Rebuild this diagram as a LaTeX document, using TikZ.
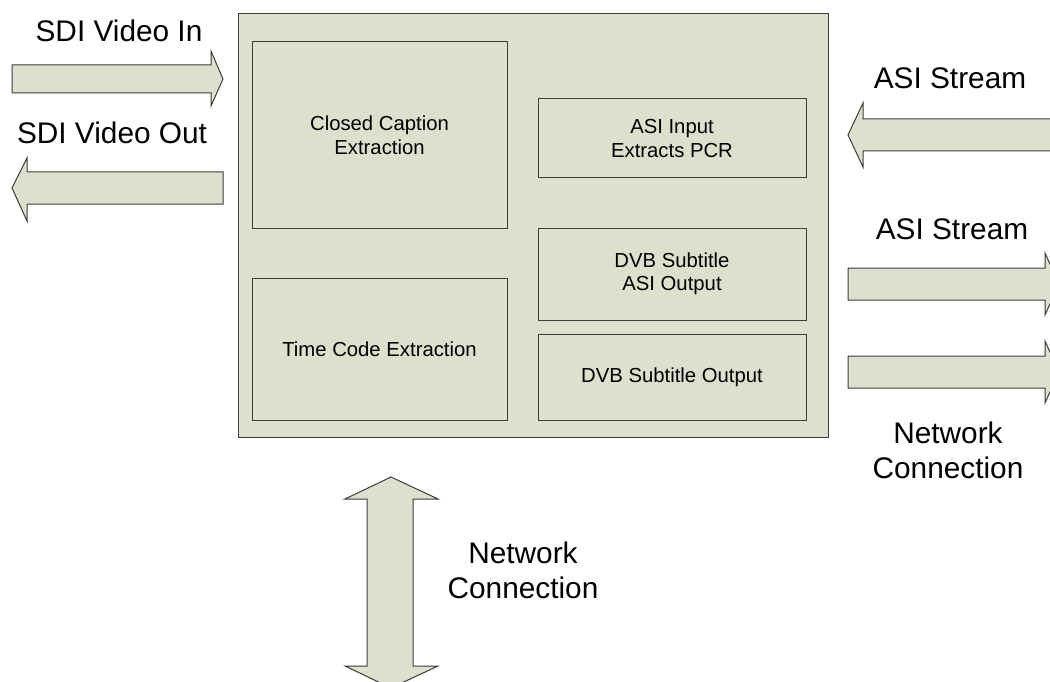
\documentclass[tikz,border=0pt]{standalone}
\usepackage{fontspec}
\setmainfont{Liberation Sans}
\begin{document}
\begin{tikzpicture}[x=1pt,y=-1pt,
  fillc/.style={fill=boxfill,draw=linec,line width=1pt},
  blockarrow/.style={fill=boxfill,draw=linec,line width=1pt,line join=miter},
  inner/.style={draw=linec,line width=1pt,align=center,font=\fontsize{20.3}{23.5}\selectfont},
  biglabel/.style={font=\fontsize{29.8}{35}\selectfont,align=center,anchor=base}]
\definecolor{boxfill}{RGB}{221,224,204}
\definecolor{linec}{RGB}{60,60,60}
\useasboundingbox (0,0) rectangle (1050,682);
\begin{scope}
\clip (0,0) rectangle (1050,682);
% main box
\draw[fillc] (238,14) rectangle (828,437);
% inner boxes
\draw[inner] (252,42) rectangle (507,228) node[midway] (cc) {Closed Caption\\Extraction};
\draw[inner] (252,278) rectangle (507,420) node[midway] (tc) {Time Code Extraction};
\draw[inner] (538,99) rectangle (806,178) node[midway] (asiin) {ASI Input\\Extracts PCR};
\draw[inner] (538,228) rectangle (806,320) node[midway] (dvbasi) {DVB Subtitle\\ASI Output};
\draw[inner] (538,334) rectangle (806,420) node[midway] (dvbout) {DVB Subtitle Output};
% SDI in
\draw[blockarrow] (12,65) -- (211,65) -- (211,51) -- (223,79) -- (211,106) -- (211,93) -- (12,93) -- cycle;
% SDI out
\draw[blockarrow] (223,172) -- (27,172) -- (27,158) -- (12,188) -- (27,221) -- (27,204) -- (223,204) -- cycle;
% ASI in (right)
\draw[blockarrow] (1070,119) -- (863,119) -- (863,103) -- (848,135) -- (863,167) -- (863,151) -- (1070,151) -- cycle;
% ASI out
\draw[blockarrow] (848,268) -- (1045,268) -- (1045,253) -- (1059,284) -- (1045,315) -- (1045,300) -- (848,300) -- cycle;
% Network right
\draw[blockarrow] (848,356) -- (1045,356) -- (1045,341) -- (1059,372) -- (1045,403) -- (1045,388) -- (848,388) -- cycle;
% Network bottom double arrow
\draw[blockarrow] (391,477) -- (438,499) -- (413,499) -- (413,666) -- (438,666) -- (391,688) -- (345,666) -- (367,666) -- (367,499) -- (345,499) -- cycle;
\end{scope}
% labels
\node[biglabel] (lsdiin) at (119,42) {SDI Video In};
\node[biglabel] (lsdiout) at (112,144) {SDI Video Out};
\node[biglabel] (lasiin) at (950,89) {ASI Stream};
\node[biglabel] (lasiout) at (952,239) {ASI Stream};
\node[biglabel] (lnet1) at (948,443) {Network};
\node[biglabel] (lnet1b) at (948,478) {Connection};
\node[biglabel] (lnet2) at (523,563) {Network};
\node[biglabel] (lnet2b) at (523,598) {Connection};
\end{tikzpicture}
\end{document}
